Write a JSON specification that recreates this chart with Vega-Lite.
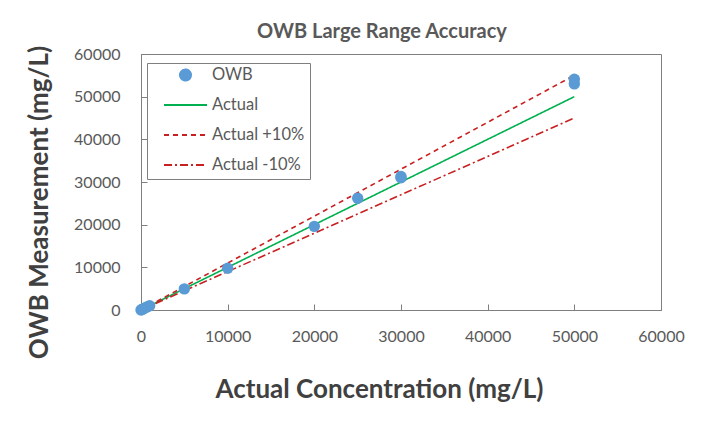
{
  "$schema": "https://vega.github.io/schema/vega-lite/v6.json",
  "width": 520,
  "height": 256,
  "autosize": {"type": "none"},
  "padding": {"left": 141, "top": 54, "right": 43, "bottom": 112},
  "background": "white",
  "title": {
    "text": "OWB Large Range Accuracy",
    "font": "Lato",
    "fontSize": 20,
    "fontWeight": "bold",
    "color": "#595959",
    "anchor": "middle",
    "baseline": "alphabetic",
    "offset": 5,
    "dx": -19,
    "dy": 18
  },
  "config": {
    "font": "Lato",
    "view": {"stroke": "#7f7f7f", "strokeWidth": 1},
    "axis": {
      "grid": false,
      "domainColor": "#7f7f7f",
      "tickColor": "#7f7f7f",
      "tickSize": -6,
      "labelFlush": false,
      "labelFont": "Lato",
      "labelFontSize": 16,
      "labelColor": "#595959",
      "titleFont": "Lato",
      "titleFontSize": 26,
      "titleFontWeight": "bold",
      "titleColor": "#404040"
    }
  },
  "data": {
    "values": [
      {"series": "Actual", "x": 0, "y": 0},
      {"series": "Actual", "x": 50000, "y": 50000},
      {"series": "Actual +10%", "x": 0, "y": 0},
      {"series": "Actual +10%", "x": 50000, "y": 55000},
      {"series": "Actual -10%", "x": 0, "y": 0},
      {"series": "Actual -10%", "x": 50000, "y": 45000},
      {"series": "OWB", "x": 0, "y": 0},
      {"series": "OWB", "x": 100, "y": 100},
      {"series": "OWB", "x": 250, "y": 260},
      {"series": "OWB", "x": 500, "y": 510},
      {"series": "OWB", "x": 750, "y": 760},
      {"series": "OWB", "x": 1000, "y": 1000},
      {"series": "OWB", "x": 5000, "y": 4950},
      {"series": "OWB", "x": 10000, "y": 9800},
      {"series": "OWB", "x": 20000, "y": 19600},
      {"series": "OWB", "x": 25000, "y": 26200},
      {"series": "OWB", "x": 30000, "y": 31000},
      {"series": "OWB", "x": 30000, "y": 31300},
      {"series": "OWB", "x": 50000, "y": 53000},
      {"series": "OWB", "x": 50000, "y": 54100}
    ]
  },
  "encoding": {
    "x": {
      "field": "x",
      "type": "quantitative",
      "scale": {"domain": [0, 60000], "nice": false},
      "axis": {
        "values": [0, 10000, 20000, 30000, 40000, 50000, 60000],
        "format": "d",
        "labelPadding": 24,
        "title": "Actual Concentration (mg/L)",
        "titleX": 238,
        "titleY": 87,
        "titleBaseline": "alphabetic"
      }
    },
    "y": {
      "field": "y",
      "type": "quantitative",
      "scale": {"domain": [0, 60000], "nice": false},
      "axis": {
        "values": [0, 10000, 20000, 30000, 40000, 50000, 60000],
        "format": "d",
        "labelPadding": 27,
        "title": "OWB Measurement (mg/L)",
        "titleX": -94,
        "titleY": 148,
        "titleBaseline": "alphabetic"
      }
    },
    "color": {
      "field": "series",
      "type": "nominal",
      "scale": {
        "domain": ["OWB", "Actual", "Actual +10%", "Actual -10%"],
        "range": ["#5B9BD5", "#00B050", "#C82020", "#C82020"]
      },
      "legend": {
        "title": null,
        "orient": "none",
        "legendX": 6,
        "legendY": 9,
        "padding": 5,
        "strokeColor": "#7f7f7f",
        "fillColor": "white",
        "symbolSize": 1849,
        "symbolOffset": 11,
        "symbolStrokeWidth": 2,
        "clipHeight": 14,
        "rowPadding": 13,
        "labelOffset": 4,
        "labelFont": "Lato",
        "labelFontSize": 16.5,
        "labelColor": "#595959",
        "labelLimit": 200,
        "encode": {
          "symbols": {
            "update": {
              "shape": {"signal": "datum.value === 'OWB' ? 'circle' : 'stroke'"},
              "size": {"signal": "datum.value === 'OWB' ? 121 : 1849"},
              "fill": {"signal": "datum.value === 'OWB' ? '#5B9BD5' : 'transparent'"},
              "stroke": {"signal": "datum.value === 'OWB' ? 'transparent' : (datum.value === 'Actual' ? '#00B050' : '#C82020')"},
              "strokeWidth": {"value": 2},
              "strokeDash": {"signal": "datum.value === 'Actual +10%' ? [5, 4] : (datum.value === 'Actual -10%' ? [8, 3, 2, 3] : [1, 0])"},
              "opacity": {"value": 1}
            }
          }
        }
      }
    }
  },
  "layer": [
    {
      "transform": [{"filter": "datum.series !== 'OWB'"}],
      "mark": {"type": "line", "strokeWidth": 1.6},
      "encoding": {
        "strokeDash": {
          "field": "series",
          "type": "nominal",
          "scale": {
            "domain": ["OWB", "Actual", "Actual +10%", "Actual -10%"],
            "range": [[1, 0], [1, 0], [5, 4], [8, 3, 2, 3]]
          },
          "legend": null
        }
      }
    },
    {
      "transform": [{"filter": "datum.series === 'OWB'"}],
      "mark": {"type": "point", "filled": true, "size": 130, "opacity": 1}
    }
  ]
}
